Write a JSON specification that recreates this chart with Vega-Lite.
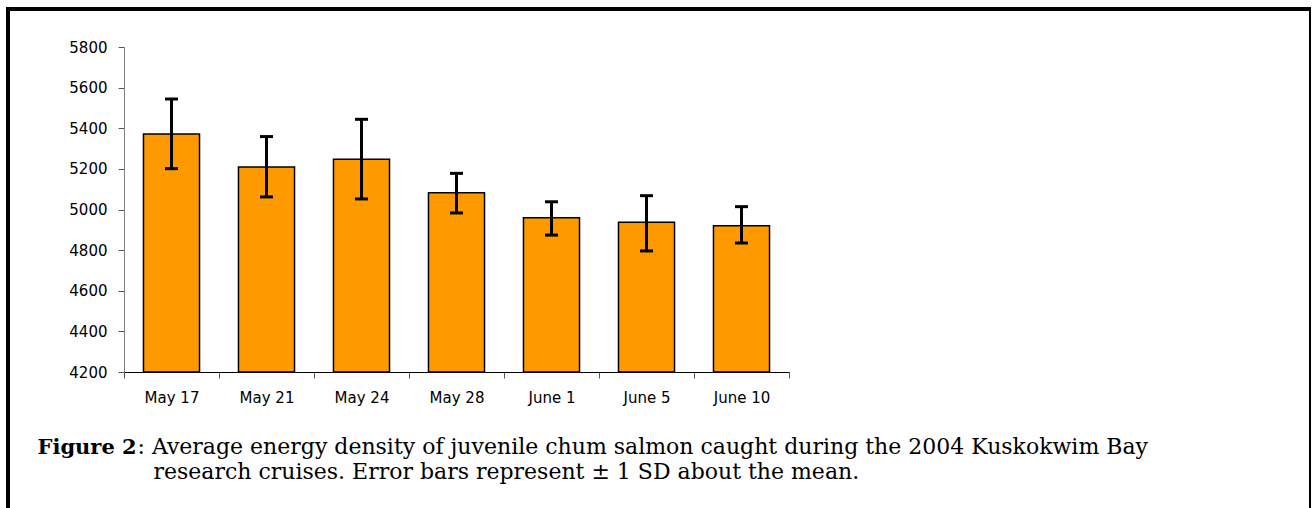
{
  "$schema": "https://vega.github.io/schema/vega-lite/v6.json",
  "width": 1303,
  "height": 520,
  "autosize": {"type": "none"},
  "padding": {"left": 8, "top": 9, "right": 0, "bottom": 0},
  "background": "white",
  "config": {"view": {"stroke": "black", "strokeWidth": 4}},
  "data": {
    "values": [
      {"date": "May 17", "mean": 5372, "lo": 5201, "hi": 5544},
      {"date": "May 21", "mean": 5209, "lo": 5062, "hi": 5359},
      {"date": "May 24", "mean": 5247, "lo": 5052, "hi": 5444},
      {"date": "May 28", "mean": 5083, "lo": 4983, "hi": 5178},
      {"date": "June 1", "mean": 4960, "lo": 4874, "hi": 5038},
      {"date": "June 5", "mean": 4937, "lo": 4796, "hi": 5068},
      {"date": "June 10", "mean": 4920, "lo": 4835, "hi": 5014}
    ]
  },
  "layer": [
    {
      "mark": {"type": "bar", "fill": "#FF9900", "stroke": "black", "strokeWidth": 1.5, "width": {"band": 0.59}},
      "encoding": {
        "x": {
          "field": "date", "type": "nominal", "sort": null,
          "scale": {"range": [116, 781], "paddingInner": 0, "paddingOuter": 0},
          "axis": {
            "orient": "bottom", "offset": -157, "labelAngle": 0,
            "labelFont": "DejaVu Sans", "labelFontSize": 15, "labelColor": "black", "labelPadding": 12,
            "domainColor": "black", "domainWidth": 1, "tickColor": "#555555", "tickSize": 6,
            "tickBand": "extent", "grid": false,
            "title": ": Average energy density of juvenile chum salmon caught during the 2004 Kuskokwim Bay",
            "titleFont": "DejaVu Serif", "titleFontSize": 22, "titleFontWeight": "normal", "titleColor": "black",
            "titleX": 129, "titleY": 81, "titleAlign": "left", "titleBaseline": "alphabetic", "titleAngle": 0
          }
        },
        "y": {
          "field": "mean", "type": "quantitative", "title": "Figure 2",
          "scale": {"domain": [4200, 5800], "range": [363, 38], "nice": false, "zero": false},
          "axis": {
            "orient": "left", "offset": -116, "format": "d",
            "values": [4200, 4400, 4600, 4800, 5000, 5200, 5400, 5600, 5800],
            "labelFont": "DejaVu Sans", "labelFontSize": 15, "labelColor": "black", "labelPadding": 11,
            "domainColor": "#808080", "domainWidth": 1, "tickColor": "#555555", "tickSize": 6, "grid": false,
            "titleFont": "DejaVu Serif", "titleFontSize": 21, "titleFontWeight": "bold", "titleColor": "black",
            "titleX": -87, "titleY": 444, "titleAlign": "left", "titleBaseline": "alphabetic", "titleAngle": 0
          }
        },
        "y2": {"datum": 4200}
      }
    },
    {
      "mark": {"type": "errorbar", "color": "black", "ticks": {"size": 13, "thickness": 3, "opacity": 1}, "rule": {"strokeWidth": 3, "opacity": 1}},
      "encoding": {
        "x": {
          "field": "date", "type": "nominal", "sort": null,
          "scale": {"range": [116, 781], "paddingInner": 0, "paddingOuter": 0},
          "axis": {
            "orient": "bottom", "offset": -157, "labels": false, "ticks": false, "domain": false, "grid": false,
            "title": "research cruises.  Error bars represent ± 1 SD about the mean.",
            "titleFont": "DejaVu Serif", "titleFontSize": 22, "titleFontWeight": "normal", "titleColor": "black",
            "titleX": 145, "titleY": 106, "titleAlign": "left", "titleBaseline": "alphabetic", "titleAngle": 0
          }
        },
        "y": {"field": "lo", "type": "quantitative", "title": "Figure 2"},
        "y2": {"field": "hi"}
      }
    }
  ],
  "resolve": {"axis": {"x": "independent"}}
}
